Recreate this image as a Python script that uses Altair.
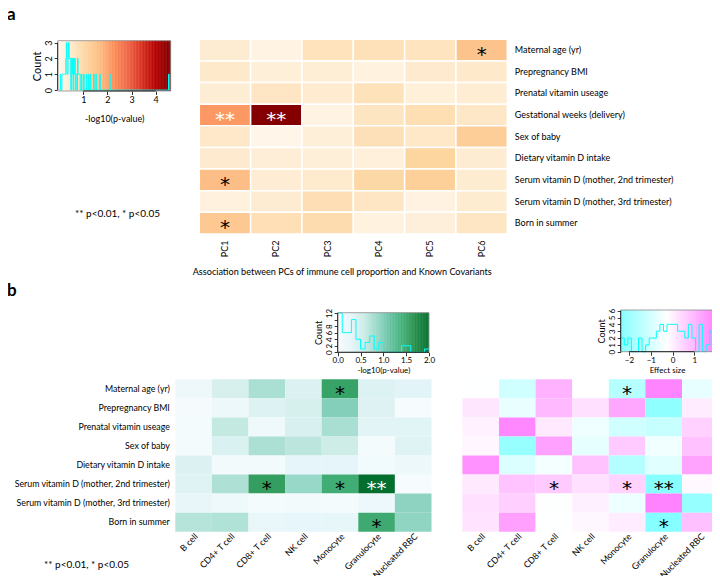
import altair as alt
import numpy as np
import pandas as pd

FONT = "Lato"
STAR_FONT = "DejaVu Sans"
W, H = 704, 568

# ---------------- data ----------------
COV_A = ["Maternal age (yr)", "Prepregnancy BMI", "Prenatal vitamin useage",
         "Gestational weeks (delivery)", "Sex of baby", "Dietary vitamin D intake",
         "Serum vitamin D (mother, 2nd trimester)", "Serum vitamin D (mother, 3rd trimester)",
         "Born in summer"]
PCS = ["PC1", "PC2", "PC3", "PC4", "PC5", "PC6"]
A_NLP = [
    [0.42, 0.15, 0.72, 0.78, 0.70, 1.54],
    [0.55, 0.30, 0.36, 0.20, 0.47, 0.52],
    [0.37, 0.62, 0.45, 0.76, 0.28, 0.40],
    [2.16, 4.55, 0.12, 0.66, 0.86, 0.60],
    [0.56, 0.05, 0.31, 0.80, 0.57, 1.29],
    [0.46, 0.34, 0.32, 0.26, 1.13, 0.41],
    [1.68, 0.39, 0.51, 1.03, 1.24, 0.43],
    [0.24, 0.41, 0.84, 0.63, 0.18, 0.44],
    [1.43, 0.82, 0.92, 0.21, 0.29, 0.65],
]
A_STARS = [
    ["", "", "", "", "", "*"],
    ["", "", "", "", "", ""],
    ["", "", "", "", "", ""],
    ["**", "**", "", "", "", ""],
    ["", "", "", "", "", ""],
    ["", "", "", "", "", ""],
    ["*", "", "", "", "", ""],
    ["", "", "", "", "", ""],
    ["*", "", "", "", "", ""],
]

COV_B = ["Maternal age (yr)", "Prepregnancy BMI", "Prenatal vitamin useage", "Sex of baby",
         "Dietary vitamin D intake", "Serum vitamin D (mother, 2nd trimester)",
         "Serum vitamin D (mother, 3rd trimester)", "Born in summer"]
CELLS = ["B cell", "CD4+ T cell", "CD8+ T cell", "NK cell", "Monocyte", "Granulocyte", "Nucleated RBC"]
B_NLP = [
    [0.15, 0.45, 0.76, 0.39, 1.52, 0.38, 0.32],
    [0.03, 0.16, 0.38, 0.46, 0.98, 0.37, 0.02],
    [0.05, 0.62, 0.12, 0.44, 0.77, 0.31, 0.33],
    [0.04, 0.42, 0.75, 0.66, 0.55, 0.06, 0.36],
    [0.39, 0.07, 0.08, 0.28, 0.27, 0.09, 0.18],
    [0.35, 0.74, 1.56, 0.86, 1.44, 1.98, 0.01],
    [0.24, 0.14, 0.06, 0.08, 0.04, 0.17, 0.92],
    [0.69, 0.72, 0.22, 0.25, 0.26, 1.46, 0.91],
]
B_EFFECT = [
    [-0.27, -1.05, 1.04, -0.25, -1.49, 1.80, -0.65],
    [0.16, -0.62, 0.91, 0.24, 1.23, -2.12, 0.05],
    [-0.02, 1.76, 0.11, -0.52, -1.05, -1.20, 0.51],
    [-0.10, -1.98, 1.32, -0.68, 0.64, -0.48, 0.78],
    [1.57, -0.85, -0.44, 0.77, -1.52, -0.77, 1.28],
    [0.11, 0.75, 0.62, 0.26, 0.49, -2.24, -0.15],
    [0.24, 0.53, -0.29, -0.01, -0.55, 1.82, -2.02],
    [0.22, 1.34, -0.27, -0.12, 0.07, -2.30, 0.80],
]
B_STARS = [
    ["", "", "", "", "*", "", ""],
    ["", "", "", "", "", "", ""],
    ["", "", "", "", "", "", ""],
    ["", "", "", "", "", "", ""],
    ["", "", "", "", "", "", ""],
    ["", "", "*", "", "*", "**", ""],
    ["", "", "", "", "", "", ""],
    ["", "", "", "", "", "*", ""],
]

KEY_A_XTICKS = [1, 2, 3, 4]
KEY_A_YTICKS = [0, 1, 2, 3]
KEY_G_XTICKS = [0, 0.5, 1, 1.5, 2]
KEY_G_YTICKS = [0, 2, 4, 6, 8, 10, 12]
KEY_P_XTICKS = [-2, -1, 0, 1]
KEY_P_YTICKS = [0, 1, 2, 3, 4, 5, 6]

ORRD = ["#fff7ec", "#fee8c8", "#fdd49e", "#fdbb84", "#fc8d59", "#ef6548", "#d7301f", "#b30000", "#7f0000"]
BUGN = ["#f7fcfd", "#e5f5f9", "#ccece6", "#99d8c9", "#66c2a4", "#41ae76", "#238b45", "#006d2c"]
CMCOL = ["#80FFFF", "#FFFFFF", "#FF80FF"]

# ---------------- helpers ----------------
def cx(x):
    return x - 8


def cy(y):
    return y - 8


def long_df(rows, cols, vals, stars, white_double=True):
    recs = []
    for i, r in enumerate(rows):
        for j, c in enumerate(cols):
            s = stars[i][j]
            tc = "white" if (white_double and s == "**") else "black"
            recs.append({"row": r, "col": c, "v": vals[i][j], "star": s, "tc": tc})
    return pd.DataFrame(recs)


def band(domain, lo, hi):
    return alt.Scale(domain=domain, range=[lo, hi], paddingInner=0, paddingOuter=0)


def lin(domain, lo, hi):
    return alt.Scale(domain=domain, range=[lo, hi], nice=False, zero=False)


def label_axis(fs):
    return dict(labelFont=FONT, labelFontSize=fs, labelColor="black", ticks=False,
                domain=False, title=None, grid=False, labelLimit=400)


def heat_layers(df, xs, ys, cs, xaxis, yaxis, stroke=None):
    rect_kw = dict(stroke=stroke, strokeWidth=1.5) if stroke else dict(strokeWidth=0)
    rect = alt.Chart(df).mark_rect(**rect_kw).encode(
        x=alt.X("col:N", scale=xs, axis=xaxis),
        y=alt.Y("row:N", scale=ys, axis=yaxis),
        color=alt.Color("v:Q", scale=cs, legend=None),
    )
    txt = alt.Chart(df).mark_text(font=STAR_FONT, fontSize=20, baseline="alphabetic", dy=11).encode(
        x=alt.X("col:N", scale=xs, axis=None),
        y=alt.Y("row:N", scale=ys, axis=None),
        text="star:N",
        color=alt.Color("tc:N", scale=None),
    )
    return [rect, txt]


def key_layers(vals, cs, xdom, ydom, xpix, ypix, xticks, yticks, xtitle, nbins_edges,
               fs=8, tfs=8, ctfs=9, ylabel_expr=None, xtitle_pad=2):
    ksx = lin(xdom, cx(xpix[0]), cx(xpix[1]))
    ksy = lin(ydom, cy(ypix[1]), cy(ypix[0]))
    n = 150
    e = np.linspace(xdom[0], xdom[1], n + 1)
    step = (xdom[1] - xdom[0]) / n
    g = pd.DataFrame({"s": e[:-1], "e": np.minimum(e[1:] + step * 0.6, xdom[1]),
                      "m": (e[:-1] + e[1:]) / 2, "ylo": ydom[0], "yhi": ydom[1]})
    xaxis = alt.Axis(orient="bottom", offset=cy(ypix[1]) - H, values=xticks, tickSize=3.5,
                     tickColor="black", tickWidth=0.8, domain=False, labelFont=FONT,
                     labelFontSize=fs, labelColor="black", labelPadding=1, labelFlush=False,
                     labelOverlap=False, title=xtitle, titleFont=FONT, titleFontSize=tfs,
                     titleFontWeight="normal", titleColor="black", titlePadding=xtitle_pad, grid=False)
    yaxis_kw = dict(orient="left", offset=-cx(xpix[0]), values=yticks, tickSize=3.5,
                    tickColor="black", tickWidth=0.8, domain=False, labelFont=FONT,
                    labelFontSize=fs, labelColor="black", labelPadding=1, labelFlush=False,
                    labelOverlap=False, labelAngle=-90, labelAlign="center",
                    labelBaseline="bottom", title="Count", titleFont=FONT, titleFontSize=ctfs,
                    titleFontWeight="normal", titleColor="black", titlePadding=2, grid=False)
    if ylabel_expr:
        yaxis_kw["labelExpr"] = ylabel_expr
    grad = alt.Chart(g).mark_rect(strokeWidth=0).encode(
        x=alt.X("s:Q", scale=ksx, axis=xaxis), x2="e",
        y=alt.Y("yhi:Q", scale=ksy, axis=alt.Axis(**yaxis_kw)), y2="ylo",
        color=alt.Color("m:Q", scale=cs, legend=None),
    )
    box = alt.Chart(pd.DataFrame({"x0": [xdom[0]], "x1": [xdom[1]], "y0": [ydom[0]], "y1": [ydom[1]]})
                    ).mark_rect(fillOpacity=0, stroke="#8a8a8a", strokeWidth=0.8).encode(
        x=alt.X("x0:Q", scale=ksx, axis=None), x2="x1",
        y=alt.Y("y0:Q", scale=ksy, axis=None), y2="y1")
    axl = alt.Chart(pd.DataFrame({"a": [min(xticks)], "b": [max(xticks)], "y": [ydom[0]]})
                    ).mark_rule(color="black", strokeWidth=0.8).encode(
        x=alt.X("a:Q", scale=ksx, axis=None), x2="b", y=alt.Y("y:Q", scale=ksy, axis=None))
    ayl = alt.Chart(pd.DataFrame({"a": [min(yticks)], "b": [max(yticks)], "x": [xdom[0]]})
                    ).mark_rule(color="black", strokeWidth=0.8).encode(
        y=alt.Y("a:Q", scale=ksy, axis=None), y2="b", x=alt.X("x:Q", scale=ksx, axis=None))
    cnt, _ = np.histogram(np.array(vals).ravel(), bins=nbins_edges)
    h = pd.DataFrame({"x": nbins_edges, "y": np.append(cnt, cnt[-1])})
    hist = alt.Chart(h).mark_line(interpolate="step-after", color="#00FFFF", strokeWidth=1).encode(
        x=alt.X("x:Q", scale=ksx, axis=None), y=alt.Y("y:Q", scale=ksy, axis=None))
    return [grad, hist, box, axl, ayl]


def label(text, x, y, size=10, weight="normal", align="left", baseline="alphabetic", font=FONT):
    return alt.Chart(pd.DataFrame({"t": [text]})).mark_text(
        font=font, fontSize=size, fontWeight=weight, align=align, baseline=baseline, color="black"
    ).encode(x=alt.value(cx(x)), y=alt.value(cy(y)), text="t:N")


# ---------------- colour scales ----------------
CS_A = alt.Scale(domain=list(np.linspace(0, 4.6, len(ORRD))), range=ORRD, interpolate="rgb", clamp=True)
CS_G = alt.Scale(domain=list(np.linspace(0, 2, len(BUGN))), range=BUGN, interpolate="rgb", clamp=True)
CS_P = alt.Scale(domain=[-2.38, -0.255, 1.87], range=CMCOL, interpolate="rgb", clamp=True)

# ---------------- panel a ----------------
dfa = long_df(COV_A, PCS, A_NLP, A_STARS)
xa = band(PCS, cx(199.3), cx(507.3))
ya = band(COV_A, cy(39.3), cy(234))
ax_a_x = alt.Axis(orient="bottom", offset=cy(234) - H, labelAngle=-90, labelAlign="right",
                  labelBaseline="middle", labelPadding=6, **label_axis(9))
ax_a_y = alt.Axis(orient="right", offset=cx(507.3) - W, labelPadding=7, labelAlign="left", **label_axis(9))
layers = heat_layers(dfa, xa, ya, CS_A, ax_a_x, ax_a_y, stroke="white")
layers += key_layers(A_NLP, CS_A, [-0.06, 4.62], [-0.06, 3.12], (57.7, 170.7), (40.7, 91),
                     KEY_A_XTICKS, KEY_A_YTICKS, "-log10(p-value)", np.linspace(0, 4.6, 201),
                     fs=9, tfs=9, ctfs=11, xtitle_pad=10)

# ---------------- panel b ----------------
dfg = long_df(COV_B, CELLS, B_NLP, B_STARS)
dfp = long_df(COV_B, CELLS, B_EFFECT, B_STARS, white_double=False)
xg = band(CELLS, cx(175.3), cx(431.5))
xp = band(CELLS, cx(462.4), cx(718.6))
yb = band(COV_B, cy(379.3), cy(531.7))
ax_b_x = dict(orient="bottom", offset=cy(531.7) - H, labelAngle=-45, labelAlign="right",
              labelBaseline="top", labelPadding=0, **label_axis(8.8))
ax_g_y = alt.Axis(orient="left", offset=-cx(175.3), labelPadding=6, labelAlign="right", **label_axis(8.8))
layers += heat_layers(dfg, xg, yb, CS_G, alt.Axis(**ax_b_x), ax_g_y)
layers += heat_layers(dfp, xp, yb, CS_P, alt.Axis(**ax_b_x), None)
layers += key_layers(B_NLP, CS_G, [0, 2], [0, 12.1], (337.7, 429), (312.7, 352.3),
                     KEY_G_XTICKS, KEY_G_YTICKS, "-log10(p-value)", np.linspace(0, 2, 21),
                     ylabel_expr="datum.value == 10 ? '' : datum.label")
layers += key_layers(B_EFFECT, CS_P, [-2.38, 1.87], [0, 6.1], (620.7, 713.3), (310, 351.7),
                     KEY_P_XTICKS, KEY_P_YTICKS, "Effect size", np.linspace(-2.38, 1.87, 27))

# ---------------- texts ----------------
layers += [
    label("a", 7, 20, size=17, weight="bold"),
    label("b", 7, 296, size=17, weight="bold"),
    label("Association between PCs of immune cell proportion and Known Covariants", 192.7, 275, size=9.1),
    label("** p<0.01, * p<0.05", 75, 217),
    label("** p<0.01, * p<0.05", 44, 568),
]

chart = alt.layer(*layers).resolve_scale(
    x="independent", y="independent", color="independent"
).resolve_axis(x="independent", y="independent").properties(
    width=W, height=H, padding=0, autosize=alt.AutoSizeParams(type="none")
).configure_view(stroke=None)

chart.save("out.html", embed_options={"renderer": "svg", "actions": False})
